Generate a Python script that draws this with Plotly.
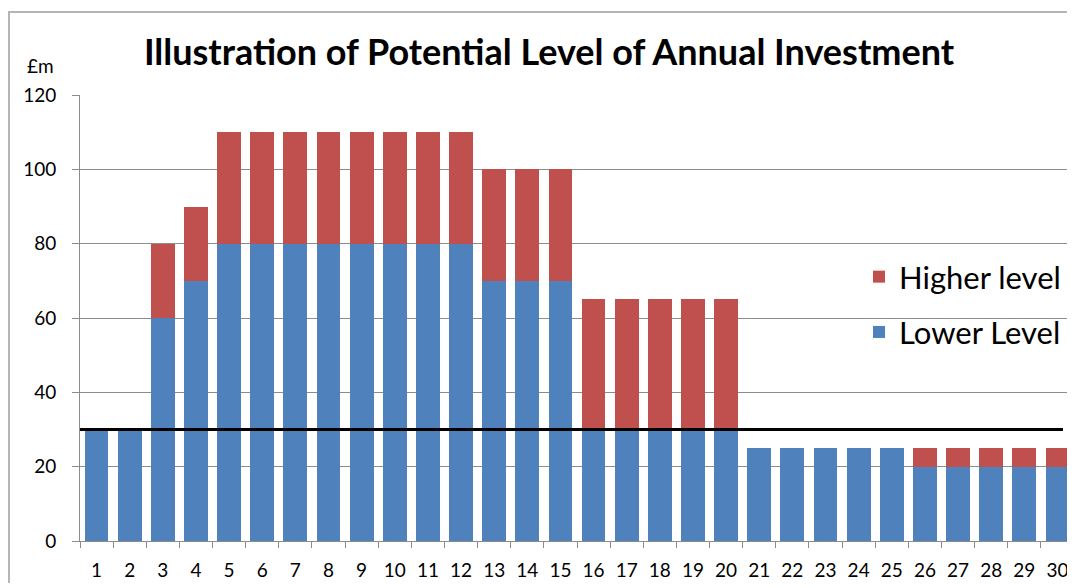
import plotly.graph_objects as go

years = [str(i) for i in range(1, 31)]
lower_level = [30, 30, 60, 70, 80, 80, 80, 80, 80, 80, 80, 80, 70, 70, 70,
               30, 30, 30, 30, 30, 25, 25, 25, 25, 25, 20, 20, 20, 20, 20]
higher_extra = [0, 0, 20, 20, 30, 30, 30, 30, 30, 30, 30, 30, 30, 30, 30,
                35, 35, 35, 35, 35, 0, 0, 0, 0, 0, 5, 5, 5, 5, 5]
threshold = 30
y_ticks = [0, 20, 40, 60, 80, 100, 120]

# page body has an 8px margin; work in reference-screen pixels
OFF = 8
W, H = 1067, 575
ML = 80 - OFF
MT = 95 - OFF
PLOT_RIGHT = 1074 - OFF
PLOT_BOTTOM = 541 - OFF
MR = W - PLOT_RIGHT
MB = H - PLOT_BOTTOM
PW = W - ML - MR
PH = H - MT - MB

def px_x(p):  # reference screen x -> paper
    return (p - OFF - ML) / PW

def px_y(p):  # reference screen y -> paper
    return (H + OFF - MB - p) / PH

FONT = "Lato"
BLUE = "#4F81BD"
RED = "#C0504D"
GRID = "#8c8c8c"

fig = go.Figure()
fig.add_trace(go.Bar(x=years, y=lower_level, name="Lower Level",
                     marker=dict(color=BLUE, line=dict(width=0)),
                     legendgroup="lower", legendrank=2))
fig.add_trace(go.Bar(x=years, y=higher_extra, name="Higher level",
                     marker=dict(color=RED, line=dict(width=0)),
                     legendgroup="higher", legendrank=1))

fig.update_layout(
    width=W, height=H,
    margin=dict(l=ML, r=MR, t=MT, b=MB),
    barmode="stack", bargap=0.28,
    plot_bgcolor="white", paper_bgcolor="white",
    font=dict(family=FONT, color="black"),
    title=dict(text="<b>Illustration of Potential Level of Annual Investment</b>",
               x=(549 - OFF) / W, xanchor="center",
               y=1 - (52 - OFF) / H, yanchor="middle",
               font=dict(family=FONT, size=36, color="black")),
    showlegend=True,
    legend=dict(x=px_x(859), y=px_y(250), xanchor="left", yanchor="top",
                traceorder="grouped",
                font=dict(family=FONT, size=31, color="black"),
                bgcolor="rgba(0,0,0,0)", tracegroupgap=12),
    xaxis=dict(type="category", showgrid=False, showline=True, linecolor=GRID,
               linewidth=1, ticks="outside", tickson="boundaries", ticklen=6,
               tickcolor=GRID, tickfont=dict(family=FONT, size=19, color="black"),
               range=[-0.5, 29.5], ticklabelstandoff=12),
    yaxis=dict(range=[0, 120], tickvals=y_ticks, showgrid=True, gridcolor=GRID,
               gridwidth=1, showline=True, linecolor=GRID, linewidth=1,
               ticks="outside", ticklen=7, tickcolor=GRID,
               tickfont=dict(family=FONT, size=19, color="black"),
               zeroline=False, ticklabelstandoff=12),
)

fig.add_shape(type="line", xref="paper", yref="y", x0=0, x1=px_x(1063),
              y0=threshold, y1=threshold, line=dict(color="black", width=3))

# chart border (top & left)
fig.add_shape(type="line", xref="paper", yref="paper", x0=px_x(8), x1=px_x(1090),
              y0=px_y(12), y1=px_y(12), line=dict(color="#b5b5b5", width=2))
fig.add_shape(type="line", xref="paper", yref="paper", x0=px_x(9), x1=px_x(9),
              y0=px_y(12), y1=px_y(600), line=dict(color="#b5b5b5", width=2))

fig.add_annotation(text="£m", xref="paper", yref="paper", x=px_x(40), y=px_y(66),
                   xanchor="center", yanchor="middle", showarrow=False,
                   font=dict(family=FONT, size=19, color="black"))

fig.write_html("out.html")
